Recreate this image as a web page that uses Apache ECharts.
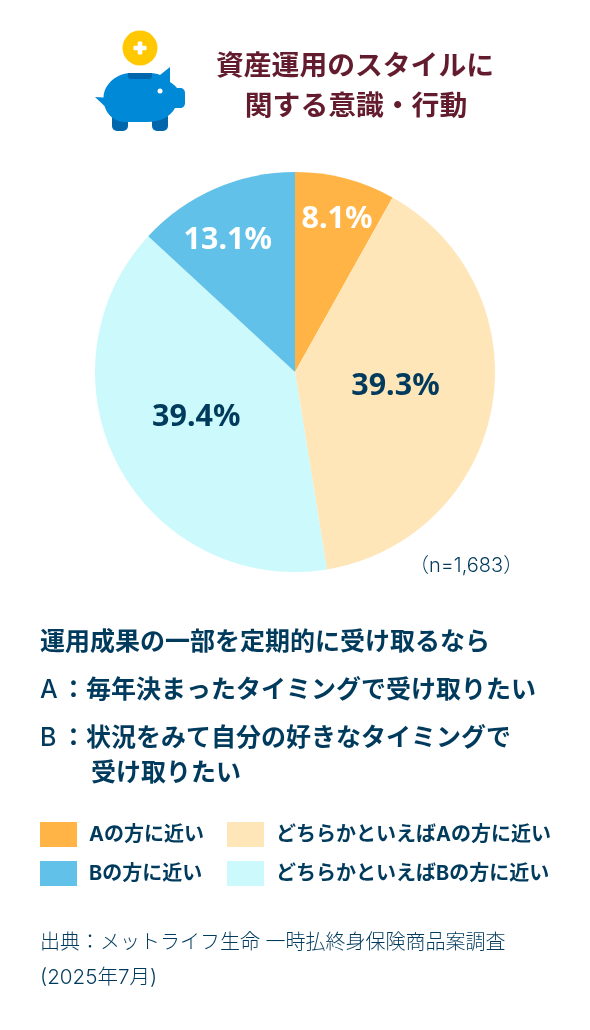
<!DOCTYPE html>
<html lang="ja">
<head>
<meta charset="utf-8">
<style>html,body{margin:0;padding:0;background:#fff}#chart{width:590px;height:1030px}</style>
<script src="https://cdn.jsdelivr.net/npm/echarts@6/dist/echarts.min.js"></script>
</head>
<body>
<div id="chart"></div>
<script>
// Survey answers, clockwise from twelve o'clock
const categories = ['Aの方に近い', 'どちらかといえばAの方に近い', 'どちらかといえばBの方に近い', 'Bの方に近い'];
const shares = [8.1, 39.3, 39.4, 13.1];
const sliceColors = ['#FFB445', '#FFE6B9', '#CBF9FC', '#62C1E8'];
const labelColors = ['#ffffff', '#003A5C', '#003A5C', '#ffffff'];
const labelOffsets = [[16, -53], [-1, -4], [-8, -3], [-26, -37]];
const legendLeft = [categories[0], categories[3]];
const legendRight = [categories[1], categories[2]];

const titleLines = ['資産運用のスタイルに', '関する意識・行動'];
const sampleNote = '（n=1,683）';
const questionLines = ['運用成果の一部を定期的に受け取るなら', '毎年決まったタイミングで受け取りたい', '状況をみて自分の好きなタイミングで', '受け取りたい'];
const sourceLines = ['出典：メットライフ生命 一時払終身保険商品案調査', '(2025年7月)'];

const JP = 'Inter, "Noto Sans CJK JP", sans-serif';
const INK = '#003A5C';

function line(text, x, y, size, weight, fill, align) {
  return { type: 'text', x, y, silent: true, style: {
    text, fill, font: `${weight} ${size}px ${JP}`, textAlign: align || 'left', textVerticalAlign: 'middle'
  } };
}

// Outline shapes for the piggy bank
echarts.graphic.registerShape('pigBody', echarts.graphic.extendPath(
  'M95 97 L103.5 97.5 C104 83 118 73 131 73 L150 73 C155 73 158 74 160 75 L170 67 L170 82 C173 84 175.5 86 177 88 L180 88 C183 88 185 90 185 93 L185 103 C185 106 183 108 180 108 L175 108 C170 117 160 122 147 122 L125 122 C115 122 107 115 104.5 106 Z', {}));
echarts.graphic.registerShape('pigSlot', echarts.graphic.extendPath(
  'M128 73 L152 73 L152 76 C152 78 151 79 149 79 L131 79 C129 79 128 78 128 76 Z', {}));

// Piggy bank and coin emblem
const emblem = [
  { type: 'circle', shape: { cx: 140, cy: 48, r: 17.5 }, style: { fill: '#FFC800' } },
  { type: 'rect', shape: { x: 133.5, y: 45.7, width: 13, height: 4.6, r: 1 }, style: { fill: '#fff' } },
  { type: 'rect', shape: { x: 137.7, y: 41.5, width: 4.6, height: 13, r: 1 }, style: { fill: '#fff' } },
  { type: 'rect', shape: { x: 112, y: 112, width: 16, height: 19, r: 5 }, style: { fill: '#0067AC' } },
  { type: 'rect', shape: { x: 152, y: 112, width: 16, height: 19, r: 5 }, style: { fill: '#0067AC' } },
  { type: 'pigBody', style: { fill: '#0089D7' } },
  { type: 'pigSlot', style: { fill: '#0067AC' } },
  { type: 'circle', shape: { cx: 160, cy: 91, r: 2.5 }, style: { fill: '#fff' } }
];

const texts = [
  line(titleLines[0], 355, 66.5, 27.8, 700, '#631C2D', 'center'),
  line(titleLines[1], 356, 106.5, 27.8, 700, '#631C2D', 'center'),
  line(sampleNote, 409, 566, 20, 300, INK),
  line(questionLines[0], 40, 642, 25, 700, INK),
  line('A', 40, 690, 25, 500, INK),
  line('：', 61, 690, 25, 700, INK),
  line(questionLines[1], 86, 690, 25, 700, INK),
  line('B', 40, 738, 25, 500, INK),
  line('：', 61, 738, 25, 700, INK),
  line(questionLines[2], 86, 738, 25, 700, INK),
  line(questionLines[3], 91, 773, 25, 700, INK),
  line(sourceLines[0], 40, 943, 20, 300, INK),
  line(sourceLines[1], 40, 978, 20.6, 300, INK)
];

const legendBase = {
  orient: 'vertical', top: 822, itemWidth: 37, itemHeight: 25, itemGap: 14, selectedMode: false,
  icon: 'rect', padding: 0, textStyle: { fontFamily: JP, fontSize: 20, fontWeight: 700, color: INK, padding: [2, 0, 0, 7] }
};

const chart = echarts.init(document.getElementById('chart'), null, { renderer: 'canvas' });
chart.setOption({
  animation: false,
  backgroundColor: '#fff',
  color: sliceColors,
  legend: [
    Object.assign({}, legendBase, { left: 40, data: legendLeft }),
    Object.assign({}, legendBase, { left: 227, data: legendRight })
  ],
  series: [{
    type: 'pie',
    center: [295, 372],
    radius: [0, 200],
    startAngle: 90,
    clockwise: true,
    silent: true,
    avoidLabelOverlap: false,
    labelLine: { show: false },
    data: categories.map((name, i) => ({
      name,
      value: shares[i],
      itemStyle: { color: sliceColors[i] },
      label: {
        show: true, position: 'inside', formatter: shares[i] + '%',
        offset: labelOffsets[i], color: labelColors[i],
        fontFamily: '"Noto Sans", sans-serif', fontSize: 30.5, fontWeight: 700
      }
    }))
  }],
  graphic: { elements: emblem.concat(texts) }
});
</script>
</body>
</html>
